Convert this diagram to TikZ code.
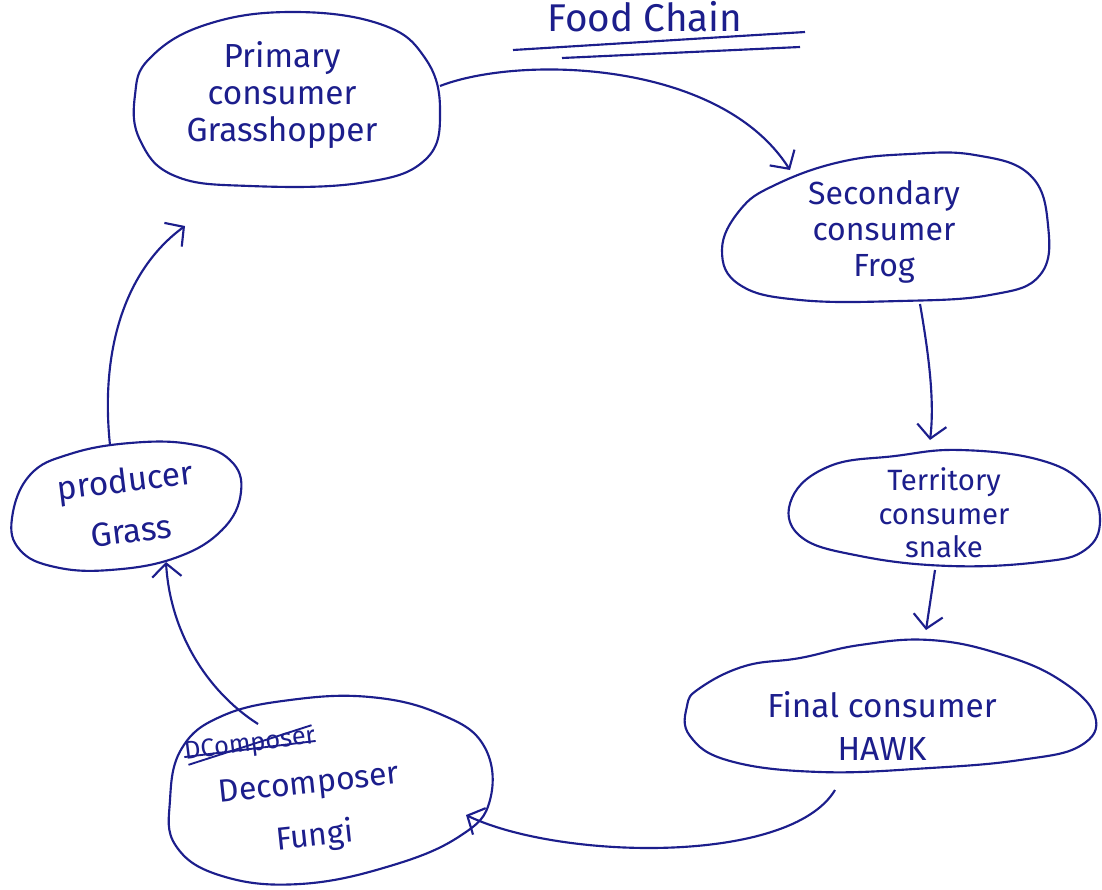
\documentclass[tikz,border=0pt]{standalone}
\usepackage{fontspec}
\setmainfont{Fira Sans}
\usetikzlibrary{arrows.meta}
\definecolor{ink}{RGB}{28,30,140}
\tikzset{
  blob/.style={draw=ink, line width=1.6pt},
  label/.style={text=ink, align=center, font=\fontsize{25}{30}\selectfont, inner sep=0pt},
  flow/.style={draw=ink, line width=1.6pt, -{Straight Barb[length=10pt,width=22pt,line width=1.6pt]}},
}
\begin{document}
\begin{tikzpicture}[x=0.75pt,y=-0.75pt]
\useasboundingbox (0,0) rectangle (1102,889);
\fill[white] (0,0) rectangle (1102,889);

% title with double underline
\node[label, font=\fontsize{29}{32}\selectfont] (title) at (645,17) {Food Chain};
\draw[ink, line width=1.6pt] (513,50) -- (805,32);
\draw[ink, line width=1.6pt] (562,58) -- (800,47);

% outlines
\draw[blob] plot[smooth cycle, tension=0.7] coordinates {(150,58) (205,25) (290,12) (380,24) (425,58) (440,110) (425,160) (360,183) (250,186) (175,176) (140,140) (135,95)};
\draw[blob] plot[smooth cycle, tension=0.7] coordinates {(775,185) (840,162) (910,154) (975,155) (1030,175) (1048,225) (1040,275) (990,295) (900,301) (800,300) (740,285) (722,250) (740,210)};
\draw[blob] plot[smooth cycle, tension=0.7] coordinates {(792,498) (830,466) (895,456) (960,450) (1040,460) (1085,485) (1100,520) (1085,550) (1040,562) (950,566) (860,556) (800,536)};
\draw[blob] plot[smooth cycle, tension=0.7] coordinates {(700,688) (745,666) (800,658) (860,645) (930,640) (1000,654) (1060,680) (1095,716) (1080,746) (1020,760) (930,768) (820,772) (730,761) (690,736) (687,706)};
\draw[blob] plot[smooth cycle, tension=0.7] coordinates {(170,800) (182,748) (222,716) (290,700) (370,697) (440,714) (484,746) (490,800) (460,836) (390,866) (300,884) (222,876) (176,846)};
\draw[blob] plot[smooth cycle, tension=0.7] coordinates {(12,518) (30,475) (70,454) (130,443) (190,444) (230,460) (241,492) (222,530) (175,558) (110,570) (55,567) (20,550)};

% texts
\node[label] (primary) at (282,95) {Primary\\[-2pt]consumer\\[-2pt]Grasshopper};
\node[label, font=\fontsize{24}{28}\selectfont] (secondary) at (884,232) {Secondary\\[-1pt]consumer\\[-1pt]Frog};
\node[label, font=\fontsize{22}{25}\selectfont] (tertiary) at (944,513) {Territory\\consumer\\snake};
\node[label] (final) at (882,726) {Final consumer\\[2pt]HAWK};
\node[label, rotate=7, font=\fontsize{19}{22}\selectfont] (scrap) at (250,745) {DComposer};
\draw[ink, line width=1.4pt] ([xshift=2pt]scrap.south west) -- ([xshift=-2pt]scrap.north east);
\draw[ink, line width=1.4pt] ([yshift=-3pt]scrap.west) -- ([yshift=-3pt]scrap.east);
\node[label, rotate=6, font=\fontsize{24}{28}\selectfont] (decomposer) at (312,812) {Decomposer\\[12pt]Fungi};
\node[label, rotate=7] (producer) at (128,505) {producer\\[8pt]Grass};

% connector end points on the outlines
\coordinate (p1) at (440,86);
\coordinate (s0) at (790,170);
\coordinate (s1) at (920,304);
\coordinate (t0) at (930,440);
\coordinate (t1) at (935,570);
\coordinate (f0) at (926,630);
\coordinate (f1) at (835,790);
\coordinate (d0) at (466,815);
\coordinate (d1) at (258,724);
\coordinate (r0) at (166,562);
\coordinate (r1) at (110,445);
\coordinate (q0) at (185,226);

% arrows round the chain
\draw[flow] (p1) .. controls (520,55) and (720,60) .. (s0);
\draw[flow] (s1) .. controls (928,350) and (935,400) .. (t0);
\draw[flow] (t1) -- (f0);
\draw[flow] (f1) .. controls (790,865) and (560,860) .. (d0);
\draw[flow] (d1) .. controls (205,690) and (170,630) .. (r0);
\draw[flow] (r1) .. controls (100,350) and (125,270) .. (q0);
\end{tikzpicture}
\end{document}
